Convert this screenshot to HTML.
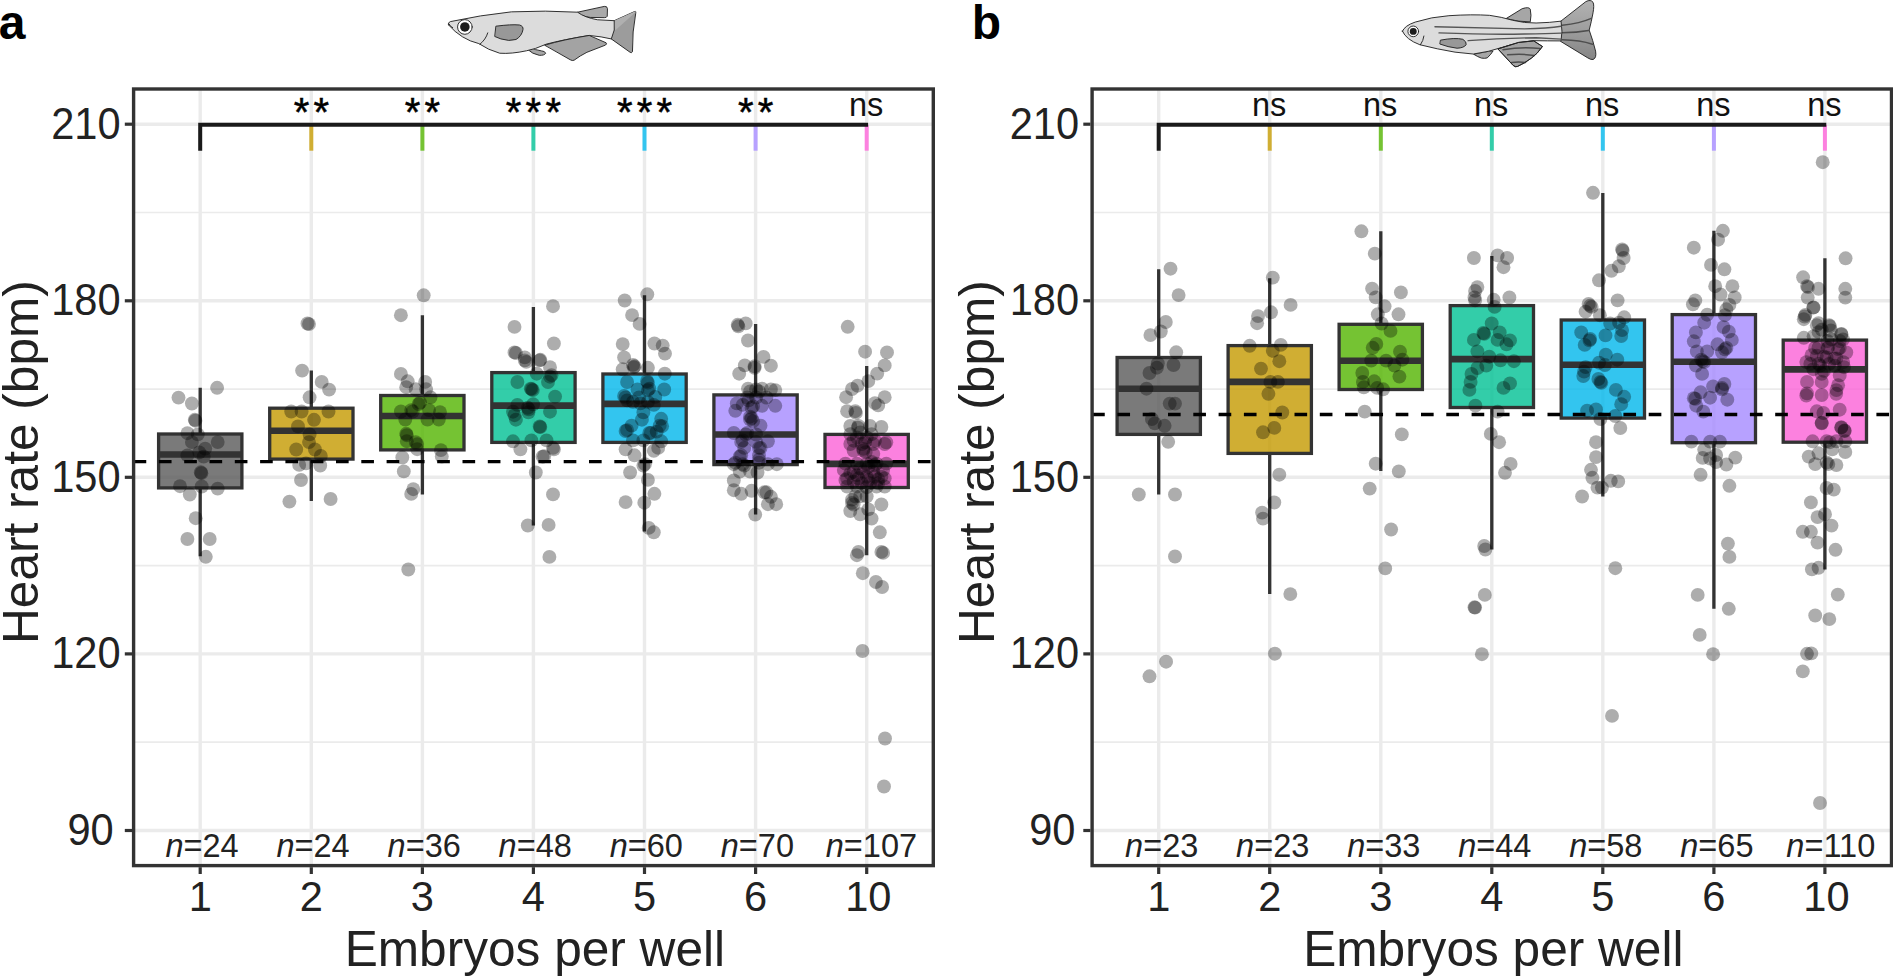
<!DOCTYPE html>
<html><head><meta charset="utf-8"><title>Heart rate vs embryos per well</title>
<style>
html,body{margin:0;padding:0;background:#fff;}
body{width:1893px;height:978px;overflow:hidden;}
svg{display:block;}
text{font-family:"Liberation Sans",Arial,Helvetica,sans-serif;fill:#222;}
.yt{font-size:41.6px;text-anchor:end;}
.xt{font-size:41.6px;text-anchor:middle;}
.ttl{font-size:49.6px;}
.nl{font-size:32.5px;text-anchor:middle;}
.ns{font-size:32.5px;text-anchor:middle;fill:#111;}
.star{font-size:40px;text-anchor:middle;fill:#000;letter-spacing:4.2px;stroke:#000;stroke-width:0.5px;}
.pl{font-size:48px;font-weight:bold;fill:#000;}
</style></head><body>
<svg width="1893" height="978" viewBox="0 0 1893 978">
<rect width="1893" height="978" fill="#fff"/>
<rect x="133.6" y="89.0" width="799.7" height="776.6" fill="#fff"/>
<line x1="133.6" x2="933.3" y1="742.2" y2="742.2" stroke="#ebebeb" stroke-width="1.7"/>
<line x1="133.6" x2="933.3" y1="565.6" y2="565.6" stroke="#ebebeb" stroke-width="1.7"/>
<line x1="133.6" x2="933.3" y1="389.1" y2="389.1" stroke="#ebebeb" stroke-width="1.7"/>
<line x1="133.6" x2="933.3" y1="212.5" y2="212.5" stroke="#ebebeb" stroke-width="1.7"/>
<line x1="133.6" x2="933.3" y1="830.5" y2="830.5" stroke="#ebebeb" stroke-width="3.4"/>
<line x1="133.6" x2="933.3" y1="653.9" y2="653.9" stroke="#ebebeb" stroke-width="3.4"/>
<line x1="133.6" x2="933.3" y1="477.3" y2="477.3" stroke="#ebebeb" stroke-width="3.4"/>
<line x1="133.6" x2="933.3" y1="300.8" y2="300.8" stroke="#ebebeb" stroke-width="3.4"/>
<line x1="133.6" x2="933.3" y1="124.2" y2="124.2" stroke="#ebebeb" stroke-width="3.4"/>
<line x1="200.2" x2="200.2" y1="89.0" y2="865.6" stroke="#ebebeb" stroke-width="3.4"/>
<line x1="311.3" x2="311.3" y1="89.0" y2="865.6" stroke="#ebebeb" stroke-width="3.4"/>
<line x1="422.4" x2="422.4" y1="89.0" y2="865.6" stroke="#ebebeb" stroke-width="3.4"/>
<line x1="533.4" x2="533.4" y1="89.0" y2="865.6" stroke="#ebebeb" stroke-width="3.4"/>
<line x1="644.5" x2="644.5" y1="89.0" y2="865.6" stroke="#ebebeb" stroke-width="3.4"/>
<line x1="755.6" x2="755.6" y1="89.0" y2="865.6" stroke="#ebebeb" stroke-width="3.4"/>
<line x1="866.7" x2="866.7" y1="89.0" y2="865.6" stroke="#ebebeb" stroke-width="3.4"/>
<path d="M200.2 387.8V434.0M200.2 487.9V556.2" stroke="#333" stroke-width="3.3" fill="none"/>
<rect x="158.6" y="434.0" width="83.3" height="53.9" fill="#595959" fill-opacity="0.8" stroke="#333" stroke-width="3.3" stroke-linejoin="miter"/>
<line x1="158.6" x2="241.9" y1="454.5" y2="454.5" stroke="#333" stroke-width="6.6"/>
<path d="M311.3 370.6V408.2M311.3 459.1V501.0" stroke="#333" stroke-width="3.3" fill="none"/>
<rect x="269.7" y="408.2" width="83.3" height="50.9" fill="#C49A00" fill-opacity="0.8" stroke="#333" stroke-width="3.3" stroke-linejoin="miter"/>
<line x1="269.7" x2="353.0" y1="430.8" y2="430.8" stroke="#333" stroke-width="6.6"/>
<path d="M422.4 315.2V395.5M422.4 449.9V494.5" stroke="#333" stroke-width="3.3" fill="none"/>
<rect x="380.7" y="395.5" width="83.3" height="54.4" fill="#53B400" fill-opacity="0.8" stroke="#333" stroke-width="3.3" stroke-linejoin="miter"/>
<line x1="380.7" x2="464.0" y1="416.0" y2="416.0" stroke="#333" stroke-width="6.6"/>
<path d="M533.4 307.0V372.6M533.4 442.4V525.5" stroke="#333" stroke-width="3.3" fill="none"/>
<rect x="491.8" y="372.6" width="83.3" height="69.8" fill="#00C094" fill-opacity="0.8" stroke="#333" stroke-width="3.3" stroke-linejoin="miter"/>
<line x1="491.8" x2="575.1" y1="405.6" y2="405.6" stroke="#333" stroke-width="6.6"/>
<path d="M644.5 295.2V374.0M644.5 442.4V531.4" stroke="#333" stroke-width="3.3" fill="none"/>
<rect x="602.9" y="374.0" width="83.3" height="68.4" fill="#00B6EB" fill-opacity="0.8" stroke="#333" stroke-width="3.3" stroke-linejoin="miter"/>
<line x1="602.9" x2="686.2" y1="403.9" y2="403.9" stroke="#333" stroke-width="6.6"/>
<path d="M755.6 324.0V394.9M755.6 464.6V514.6" stroke="#333" stroke-width="3.3" fill="none"/>
<rect x="713.9" y="394.9" width="83.3" height="69.7" fill="#A58AFF" fill-opacity="0.8" stroke="#333" stroke-width="3.3" stroke-linejoin="miter"/>
<line x1="713.9" x2="797.2" y1="434.5" y2="434.5" stroke="#333" stroke-width="6.6"/>
<path d="M866.7 366.1V434.4M866.7 487.5V555.2" stroke="#333" stroke-width="3.3" fill="none"/>
<rect x="825.0" y="434.4" width="83.3" height="53.1" fill="#FB61D7" fill-opacity="0.8" stroke="#333" stroke-width="3.3" stroke-linejoin="miter"/>
<line x1="825.0" x2="908.3" y1="463.9" y2="463.9" stroke="#333" stroke-width="6.6"/>
<g fill="#000" fill-opacity="0.32">
<circle cx="217.1" cy="387.8" r="6.95"/>
<circle cx="178.5" cy="397.6" r="6.95"/>
<circle cx="191.9" cy="403.5" r="6.95"/>
<circle cx="194.8" cy="419.8" r="6.95"/>
<circle cx="195.4" cy="420.7" r="6.95"/>
<circle cx="187.4" cy="433.2" r="6.95"/>
<circle cx="197.8" cy="434.4" r="6.95"/>
<circle cx="191.9" cy="442.1" r="6.95"/>
<circle cx="217.7" cy="442.1" r="6.95"/>
<circle cx="205.2" cy="448.6" r="6.95"/>
<circle cx="199.3" cy="452.4" r="6.95"/>
<circle cx="187.4" cy="455.4" r="6.95"/>
<circle cx="203.7" cy="456.6" r="6.95"/>
<circle cx="200.8" cy="472.3" r="6.95"/>
<circle cx="201.4" cy="473.2" r="6.95"/>
<circle cx="180.0" cy="486.2" r="6.95"/>
<circle cx="201.7" cy="486.5" r="6.95"/>
<circle cx="217.7" cy="488.6" r="6.95"/>
<circle cx="189.8" cy="494.5" r="6.95"/>
<circle cx="195.7" cy="518.2" r="6.95"/>
<circle cx="187.4" cy="539.0" r="6.95"/>
<circle cx="209.7" cy="539.0" r="6.95"/>
<circle cx="205.8" cy="556.8" r="6.95"/>
<circle cx="307.5" cy="323.5" r="6.95"/>
<circle cx="309.0" cy="324.1" r="6.95"/>
<circle cx="302.1" cy="370.6" r="6.95"/>
<circle cx="321.7" cy="381.9" r="6.95"/>
<circle cx="329.1" cy="389.6" r="6.95"/>
<circle cx="309.6" cy="397.3" r="6.95"/>
<circle cx="291.2" cy="411.5" r="6.95"/>
<circle cx="301.6" cy="411.5" r="6.95"/>
<circle cx="328.5" cy="411.5" r="6.95"/>
<circle cx="314.0" cy="419.8" r="6.95"/>
<circle cx="298.0" cy="426.4" r="6.95"/>
<circle cx="309.6" cy="434.4" r="6.95"/>
<circle cx="309.0" cy="442.1" r="6.95"/>
<circle cx="296.2" cy="449.5" r="6.95"/>
<circle cx="314.9" cy="449.5" r="6.95"/>
<circle cx="320.8" cy="456.0" r="6.95"/>
<circle cx="299.2" cy="464.9" r="6.95"/>
<circle cx="306.0" cy="463.4" r="6.95"/>
<circle cx="320.2" cy="465.5" r="6.95"/>
<circle cx="301.0" cy="480.0" r="6.95"/>
<circle cx="289.4" cy="501.6" r="6.95"/>
<circle cx="330.6" cy="499.0" r="6.95"/>
<circle cx="423.7" cy="295.3" r="6.95"/>
<circle cx="400.9" cy="315.2" r="6.95"/>
<circle cx="400.9" cy="373.9" r="6.95"/>
<circle cx="407.7" cy="381.3" r="6.95"/>
<circle cx="425.2" cy="381.9" r="6.95"/>
<circle cx="406.2" cy="387.2" r="6.95"/>
<circle cx="415.7" cy="389.3" r="6.95"/>
<circle cx="426.1" cy="389.3" r="6.95"/>
<circle cx="430.5" cy="397.3" r="6.95"/>
<circle cx="418.6" cy="404.1" r="6.95"/>
<circle cx="400.9" cy="411.5" r="6.95"/>
<circle cx="411.2" cy="410.1" r="6.95"/>
<circle cx="429.0" cy="410.1" r="6.95"/>
<circle cx="440.0" cy="412.1" r="6.95"/>
<circle cx="405.3" cy="419.5" r="6.95"/>
<circle cx="427.5" cy="419.5" r="6.95"/>
<circle cx="438.8" cy="419.5" r="6.95"/>
<circle cx="406.2" cy="433.8" r="6.95"/>
<circle cx="406.8" cy="441.2" r="6.95"/>
<circle cx="415.7" cy="442.1" r="6.95"/>
<circle cx="417.2" cy="449.2" r="6.95"/>
<circle cx="440.9" cy="450.1" r="6.95"/>
<circle cx="402.3" cy="457.5" r="6.95"/>
<circle cx="441.8" cy="456.6" r="6.95"/>
<circle cx="403.8" cy="471.4" r="6.95"/>
<circle cx="413.3" cy="489.2" r="6.95"/>
<circle cx="411.2" cy="493.9" r="6.95"/>
<circle cx="408.3" cy="569.5" r="6.95"/>
<circle cx="420.1" cy="402.6" r="6.95"/>
<circle cx="412.7" cy="411.5" r="6.95"/>
<circle cx="417.2" cy="444.1" r="6.95"/>
<circle cx="406.8" cy="435.2" r="6.95"/>
<circle cx="553.0" cy="306.2" r="6.95"/>
<circle cx="514.5" cy="326.9" r="6.95"/>
<circle cx="553.9" cy="343.5" r="6.95"/>
<circle cx="514.5" cy="352.4" r="6.95"/>
<circle cx="524.8" cy="357.4" r="6.95"/>
<circle cx="526.3" cy="361.9" r="6.95"/>
<circle cx="540.3" cy="359.8" r="6.95"/>
<circle cx="550.0" cy="367.2" r="6.95"/>
<circle cx="536.7" cy="373.7" r="6.95"/>
<circle cx="551.5" cy="375.2" r="6.95"/>
<circle cx="517.4" cy="382.0" r="6.95"/>
<circle cx="548.0" cy="382.0" r="6.95"/>
<circle cx="530.8" cy="388.6" r="6.95"/>
<circle cx="532.8" cy="390.1" r="6.95"/>
<circle cx="555.1" cy="396.6" r="6.95"/>
<circle cx="517.4" cy="404.9" r="6.95"/>
<circle cx="533.1" cy="404.3" r="6.95"/>
<circle cx="527.8" cy="407.8" r="6.95"/>
<circle cx="513.0" cy="411.7" r="6.95"/>
<circle cx="528.4" cy="412.3" r="6.95"/>
<circle cx="550.0" cy="411.7" r="6.95"/>
<circle cx="515.9" cy="419.7" r="6.95"/>
<circle cx="539.7" cy="426.5" r="6.95"/>
<circle cx="513.0" cy="441.3" r="6.95"/>
<circle cx="531.4" cy="440.4" r="6.95"/>
<circle cx="546.5" cy="440.4" r="6.95"/>
<circle cx="520.4" cy="449.3" r="6.95"/>
<circle cx="553.9" cy="449.3" r="6.95"/>
<circle cx="544.1" cy="456.2" r="6.95"/>
<circle cx="535.8" cy="472.5" r="6.95"/>
<circle cx="553.0" cy="494.4" r="6.95"/>
<circle cx="527.8" cy="525.5" r="6.95"/>
<circle cx="548.6" cy="524.9" r="6.95"/>
<circle cx="549.4" cy="556.9" r="6.95"/>
<circle cx="515.9" cy="353.0" r="6.95"/>
<circle cx="524.8" cy="360.4" r="6.95"/>
<circle cx="539.7" cy="360.4" r="6.95"/>
<circle cx="550.0" cy="376.7" r="6.95"/>
<circle cx="531.7" cy="389.2" r="6.95"/>
<circle cx="528.7" cy="409.3" r="6.95"/>
<circle cx="514.5" cy="415.2" r="6.95"/>
<circle cx="540.3" cy="427.1" r="6.95"/>
<circle cx="553.0" cy="447.9" r="6.95"/>
<circle cx="542.6" cy="456.7" r="6.95"/>
<circle cx="647.3" cy="294.3" r="6.95"/>
<circle cx="624.7" cy="300.5" r="6.95"/>
<circle cx="632.1" cy="315.1" r="6.95"/>
<circle cx="639.6" cy="323.9" r="6.95"/>
<circle cx="622.7" cy="344.1" r="6.95"/>
<circle cx="654.4" cy="343.5" r="6.95"/>
<circle cx="662.7" cy="345.6" r="6.95"/>
<circle cx="665.0" cy="353.6" r="6.95"/>
<circle cx="624.1" cy="357.4" r="6.95"/>
<circle cx="633.0" cy="364.9" r="6.95"/>
<circle cx="633.9" cy="367.2" r="6.95"/>
<circle cx="647.9" cy="367.8" r="6.95"/>
<circle cx="622.7" cy="369.3" r="6.95"/>
<circle cx="664.8" cy="373.7" r="6.95"/>
<circle cx="627.1" cy="382.0" r="6.95"/>
<circle cx="647.0" cy="381.2" r="6.95"/>
<circle cx="664.2" cy="389.5" r="6.95"/>
<circle cx="637.5" cy="389.5" r="6.95"/>
<circle cx="647.9" cy="390.1" r="6.95"/>
<circle cx="624.1" cy="396.0" r="6.95"/>
<circle cx="639.0" cy="397.5" r="6.95"/>
<circle cx="655.3" cy="396.9" r="6.95"/>
<circle cx="627.1" cy="400.4" r="6.95"/>
<circle cx="640.4" cy="403.4" r="6.95"/>
<circle cx="653.8" cy="404.9" r="6.95"/>
<circle cx="643.4" cy="412.3" r="6.95"/>
<circle cx="641.9" cy="419.7" r="6.95"/>
<circle cx="661.2" cy="418.8" r="6.95"/>
<circle cx="631.6" cy="425.6" r="6.95"/>
<circle cx="662.1" cy="426.2" r="6.95"/>
<circle cx="625.6" cy="431.0" r="6.95"/>
<circle cx="649.3" cy="433.0" r="6.95"/>
<circle cx="656.7" cy="431.6" r="6.95"/>
<circle cx="633.0" cy="440.4" r="6.95"/>
<circle cx="643.4" cy="440.4" r="6.95"/>
<circle cx="661.2" cy="441.3" r="6.95"/>
<circle cx="625.6" cy="449.3" r="6.95"/>
<circle cx="634.5" cy="455.3" r="6.95"/>
<circle cx="653.8" cy="450.8" r="6.95"/>
<circle cx="658.2" cy="447.9" r="6.95"/>
<circle cx="643.4" cy="465.6" r="6.95"/>
<circle cx="630.1" cy="472.5" r="6.95"/>
<circle cx="647.9" cy="479.9" r="6.95"/>
<circle cx="654.4" cy="493.8" r="6.95"/>
<circle cx="625.6" cy="502.1" r="6.95"/>
<circle cx="644.3" cy="502.7" r="6.95"/>
<circle cx="648.7" cy="527.9" r="6.95"/>
<circle cx="653.8" cy="532.3" r="6.95"/>
<circle cx="634.5" cy="366.3" r="6.95"/>
<circle cx="647.9" cy="382.6" r="6.95"/>
<circle cx="649.3" cy="388.6" r="6.95"/>
<circle cx="625.6" cy="397.5" r="6.95"/>
<circle cx="633.0" cy="401.9" r="6.95"/>
<circle cx="647.9" cy="401.9" r="6.95"/>
<circle cx="659.7" cy="425.6" r="6.95"/>
<circle cx="644.9" cy="464.2" r="6.95"/>
<circle cx="650.8" cy="433.0" r="6.95"/>
<circle cx="627.1" cy="430.1" r="6.95"/>
<circle cx="737.7" cy="324.8" r="6.95"/>
<circle cx="745.7" cy="323.4" r="6.95"/>
<circle cx="738.3" cy="326.3" r="6.95"/>
<circle cx="748.0" cy="340.5" r="6.95"/>
<circle cx="763.5" cy="356.9" r="6.95"/>
<circle cx="744.8" cy="365.4" r="6.95"/>
<circle cx="754.6" cy="366.3" r="6.95"/>
<circle cx="770.9" cy="365.7" r="6.95"/>
<circle cx="739.2" cy="373.7" r="6.95"/>
<circle cx="748.0" cy="388.6" r="6.95"/>
<circle cx="756.1" cy="389.5" r="6.95"/>
<circle cx="762.0" cy="388.6" r="6.95"/>
<circle cx="770.9" cy="389.5" r="6.95"/>
<circle cx="775.3" cy="390.1" r="6.95"/>
<circle cx="747.2" cy="397.5" r="6.95"/>
<circle cx="756.1" cy="397.5" r="6.95"/>
<circle cx="766.4" cy="397.5" r="6.95"/>
<circle cx="736.8" cy="403.4" r="6.95"/>
<circle cx="742.7" cy="404.9" r="6.95"/>
<circle cx="753.1" cy="406.4" r="6.95"/>
<circle cx="762.0" cy="405.8" r="6.95"/>
<circle cx="775.3" cy="405.8" r="6.95"/>
<circle cx="735.3" cy="410.8" r="6.95"/>
<circle cx="750.1" cy="416.7" r="6.95"/>
<circle cx="753.1" cy="421.2" r="6.95"/>
<circle cx="760.5" cy="425.6" r="6.95"/>
<circle cx="733.8" cy="433.0" r="6.95"/>
<circle cx="747.2" cy="433.0" r="6.95"/>
<circle cx="756.1" cy="434.5" r="6.95"/>
<circle cx="742.7" cy="440.4" r="6.95"/>
<circle cx="756.1" cy="441.9" r="6.95"/>
<circle cx="767.9" cy="441.3" r="6.95"/>
<circle cx="744.2" cy="447.9" r="6.95"/>
<circle cx="760.5" cy="447.9" r="6.95"/>
<circle cx="739.7" cy="456.7" r="6.95"/>
<circle cx="759.0" cy="455.3" r="6.95"/>
<circle cx="733.8" cy="464.2" r="6.95"/>
<circle cx="742.7" cy="464.2" r="6.95"/>
<circle cx="759.0" cy="462.7" r="6.95"/>
<circle cx="767.9" cy="464.2" r="6.95"/>
<circle cx="776.8" cy="464.2" r="6.95"/>
<circle cx="739.7" cy="471.6" r="6.95"/>
<circle cx="750.1" cy="471.6" r="6.95"/>
<circle cx="757.5" cy="472.5" r="6.95"/>
<circle cx="733.8" cy="480.5" r="6.95"/>
<circle cx="733.8" cy="490.2" r="6.95"/>
<circle cx="741.2" cy="493.8" r="6.95"/>
<circle cx="751.6" cy="490.8" r="6.95"/>
<circle cx="764.4" cy="492.3" r="6.95"/>
<circle cx="770.9" cy="496.8" r="6.95"/>
<circle cx="767.9" cy="504.2" r="6.95"/>
<circle cx="776.2" cy="504.2" r="6.95"/>
<circle cx="755.2" cy="514.6" r="6.95"/>
<circle cx="750.1" cy="391.5" r="6.95"/>
<circle cx="759.0" cy="391.5" r="6.95"/>
<circle cx="748.6" cy="400.4" r="6.95"/>
<circle cx="751.6" cy="407.8" r="6.95"/>
<circle cx="751.6" cy="418.2" r="6.95"/>
<circle cx="750.1" cy="419.7" r="6.95"/>
<circle cx="745.7" cy="434.5" r="6.95"/>
<circle cx="741.2" cy="441.9" r="6.95"/>
<circle cx="759.0" cy="447.9" r="6.95"/>
<circle cx="741.2" cy="455.3" r="6.95"/>
<circle cx="759.0" cy="459.7" r="6.95"/>
<circle cx="735.3" cy="462.7" r="6.95"/>
<circle cx="744.2" cy="465.6" r="6.95"/>
<circle cx="754.6" cy="367.8" r="6.95"/>
<circle cx="766.4" cy="492.3" r="6.95"/>
<circle cx="847.7" cy="326.8" r="6.95"/>
<circle cx="865.1" cy="351.7" r="6.95"/>
<circle cx="887.0" cy="352.4" r="6.95"/>
<circle cx="884.7" cy="365.4" r="6.95"/>
<circle cx="877.2" cy="373.6" r="6.95"/>
<circle cx="868.3" cy="381.1" r="6.95"/>
<circle cx="857.5" cy="385.7" r="6.95"/>
<circle cx="852.0" cy="389.0" r="6.95"/>
<circle cx="846.1" cy="397.2" r="6.95"/>
<circle cx="884.7" cy="397.2" r="6.95"/>
<circle cx="874.9" cy="403.1" r="6.95"/>
<circle cx="878.2" cy="405.4" r="6.95"/>
<circle cx="847.1" cy="411.2" r="6.95"/>
<circle cx="855.3" cy="411.2" r="6.95"/>
<circle cx="850.3" cy="426.0" r="6.95"/>
<circle cx="858.5" cy="426.0" r="6.95"/>
<circle cx="870.0" cy="426.0" r="6.95"/>
<circle cx="881.4" cy="427.0" r="6.95"/>
<circle cx="850.3" cy="434.2" r="6.95"/>
<circle cx="860.2" cy="432.5" r="6.95"/>
<circle cx="871.6" cy="434.2" r="6.95"/>
<circle cx="853.6" cy="440.7" r="6.95"/>
<circle cx="865.1" cy="442.3" r="6.95"/>
<circle cx="874.9" cy="440.7" r="6.95"/>
<circle cx="886.3" cy="442.3" r="6.95"/>
<circle cx="853.6" cy="450.5" r="6.95"/>
<circle cx="863.4" cy="450.5" r="6.95"/>
<circle cx="873.3" cy="453.8" r="6.95"/>
<circle cx="845.4" cy="463.6" r="6.95"/>
<circle cx="856.9" cy="463.6" r="6.95"/>
<circle cx="866.7" cy="463.6" r="6.95"/>
<circle cx="876.5" cy="463.6" r="6.95"/>
<circle cx="886.3" cy="463.6" r="6.95"/>
<circle cx="843.8" cy="470.1" r="6.95"/>
<circle cx="853.6" cy="471.8" r="6.95"/>
<circle cx="863.4" cy="471.8" r="6.95"/>
<circle cx="873.3" cy="471.8" r="6.95"/>
<circle cx="883.1" cy="470.1" r="6.95"/>
<circle cx="847.1" cy="478.3" r="6.95"/>
<circle cx="858.5" cy="478.3" r="6.95"/>
<circle cx="868.3" cy="480.0" r="6.95"/>
<circle cx="878.2" cy="479.3" r="6.95"/>
<circle cx="847.1" cy="486.5" r="6.95"/>
<circle cx="856.9" cy="486.5" r="6.95"/>
<circle cx="866.7" cy="487.2" r="6.95"/>
<circle cx="876.5" cy="486.5" r="6.95"/>
<circle cx="884.7" cy="486.5" r="6.95"/>
<circle cx="855.3" cy="496.3" r="6.95"/>
<circle cx="866.7" cy="496.3" r="6.95"/>
<circle cx="852.0" cy="502.9" r="6.95"/>
<circle cx="881.4" cy="504.5" r="6.95"/>
<circle cx="850.3" cy="511.0" r="6.95"/>
<circle cx="868.3" cy="509.4" r="6.95"/>
<circle cx="860.2" cy="514.3" r="6.95"/>
<circle cx="871.6" cy="518.6" r="6.95"/>
<circle cx="879.8" cy="532.3" r="6.95"/>
<circle cx="858.5" cy="551.9" r="6.95"/>
<circle cx="856.9" cy="555.2" r="6.95"/>
<circle cx="881.4" cy="551.9" r="6.95"/>
<circle cx="883.1" cy="552.9" r="6.95"/>
<circle cx="862.8" cy="573.2" r="6.95"/>
<circle cx="875.9" cy="582.0" r="6.95"/>
<circle cx="882.1" cy="587.0" r="6.95"/>
<circle cx="855.9" cy="412.9" r="6.95"/>
<circle cx="857.9" cy="427.6" r="6.95"/>
<circle cx="861.8" cy="444.0" r="6.95"/>
<circle cx="863.4" cy="448.9" r="6.95"/>
<circle cx="865.7" cy="452.1" r="6.95"/>
<circle cx="871.6" cy="462.0" r="6.95"/>
<circle cx="874.9" cy="465.2" r="6.95"/>
<circle cx="868.3" cy="466.9" r="6.95"/>
<circle cx="860.2" cy="468.5" r="6.95"/>
<circle cx="850.3" cy="473.4" r="6.95"/>
<circle cx="856.9" cy="475.1" r="6.95"/>
<circle cx="866.7" cy="476.7" r="6.95"/>
<circle cx="874.9" cy="476.7" r="6.95"/>
<circle cx="881.4" cy="476.7" r="6.95"/>
<circle cx="845.4" cy="480.0" r="6.95"/>
<circle cx="853.6" cy="481.6" r="6.95"/>
<circle cx="861.8" cy="483.2" r="6.95"/>
<circle cx="870.0" cy="483.2" r="6.95"/>
<circle cx="878.2" cy="483.2" r="6.95"/>
<circle cx="884.7" cy="478.3" r="6.95"/>
<circle cx="852.0" cy="499.6" r="6.95"/>
<circle cx="853.6" cy="504.5" r="6.95"/>
<circle cx="860.2" cy="496.3" r="6.95"/>
<circle cx="873.3" cy="444.0" r="6.95"/>
<circle cx="884.7" cy="444.0" r="6.95"/>
<circle cx="850.3" cy="444.0" r="6.95"/>
<circle cx="856.9" cy="437.4" r="6.95"/>
<circle cx="866.7" cy="437.4" r="6.95"/>
<circle cx="862.5" cy="651.0" r="6.95"/>
<circle cx="885.0" cy="738.5" r="6.95"/>
<circle cx="884.0" cy="786.5" r="6.95"/>
</g>
<line x1="133.6" x2="933.3" y1="461.7" y2="461.7" stroke="#000" stroke-width="3.3" stroke-dasharray="12.65 12.65"/>
<line x1="311.3" x2="311.3" y1="124.8" y2="150.7" stroke="#D0AE33" stroke-width="4"/>
<line x1="422.4" x2="422.4" y1="124.8" y2="150.7" stroke="#75C333" stroke-width="4"/>
<line x1="533.4" x2="533.4" y1="124.8" y2="150.7" stroke="#33CDA9" stroke-width="4"/>
<line x1="644.5" x2="644.5" y1="124.8" y2="150.7" stroke="#33C5EF" stroke-width="4"/>
<line x1="755.6" x2="755.6" y1="124.8" y2="150.7" stroke="#B7A1FF" stroke-width="4"/>
<line x1="866.7" x2="866.7" y1="124.8" y2="150.7" stroke="#FC81DF" stroke-width="4"/>
<path d="M200.2 150.7V124.8H868.1" stroke="#1a1a1a" stroke-width="4" fill="none"/>
<text x="313.4" y="126.1" class="star">**</text>
<text x="424.5" y="126.1" class="star">**</text>
<text x="535.5" y="126.1" class="star">***</text>
<text x="646.6" y="126.1" class="star">***</text>
<text x="757.7" y="126.1" class="star">**</text>
<text x="866.1" y="116.1" class="ns">ns</text>
<text x="202.0" y="857.3" class="nl"><tspan font-style="italic">n</tspan>=24</text>
<text x="313.1" y="857.3" class="nl"><tspan font-style="italic">n</tspan>=24</text>
<text x="424.2" y="857.3" class="nl"><tspan font-style="italic">n</tspan>=36</text>
<text x="535.2" y="857.3" class="nl"><tspan font-style="italic">n</tspan>=48</text>
<text x="646.3" y="857.3" class="nl"><tspan font-style="italic">n</tspan>=60</text>
<text x="757.4" y="857.3" class="nl"><tspan font-style="italic">n</tspan>=70</text>
<text x="871.4" y="857.3" class="nl"><tspan font-style="italic">n</tspan>=107</text>
<rect x="133.6" y="89.0" width="799.7" height="776.6" fill="none" stroke="#333" stroke-width="3.4"/>
<line x1="124.8" x2="132.0" y1="830.5" y2="830.5" stroke="#333" stroke-width="3.2"/>
<text transform="translate(113.7,844.9) scale(1,1.045)" class="yt">90</text>
<line x1="124.8" x2="132.0" y1="653.9" y2="653.9" stroke="#333" stroke-width="3.2"/>
<text transform="translate(120.6,668.3) scale(1,1.045)" class="yt">120</text>
<line x1="124.8" x2="132.0" y1="477.3" y2="477.3" stroke="#333" stroke-width="3.2"/>
<text transform="translate(120.6,491.7) scale(1,1.045)" class="yt">150</text>
<line x1="124.8" x2="132.0" y1="300.8" y2="300.8" stroke="#333" stroke-width="3.2"/>
<text transform="translate(120.6,315.2) scale(1,1.045)" class="yt">180</text>
<line x1="124.8" x2="132.0" y1="124.2" y2="124.2" stroke="#333" stroke-width="3.2"/>
<text transform="translate(120.6,138.6) scale(1,1.045)" class="yt">210</text>
<line x1="200.2" x2="200.2" y1="867.2" y2="874.0" stroke="#333" stroke-width="3.2"/>
<text transform="translate(200.2,911) scale(1,1.03)" class="xt">1</text>
<line x1="311.3" x2="311.3" y1="867.2" y2="874.0" stroke="#333" stroke-width="3.2"/>
<text transform="translate(311.3,911) scale(1,1.03)" class="xt">2</text>
<line x1="422.4" x2="422.4" y1="867.2" y2="874.0" stroke="#333" stroke-width="3.2"/>
<text transform="translate(422.4,911) scale(1,1.03)" class="xt">3</text>
<line x1="533.4" x2="533.4" y1="867.2" y2="874.0" stroke="#333" stroke-width="3.2"/>
<text transform="translate(533.4,911) scale(1,1.03)" class="xt">4</text>
<line x1="644.5" x2="644.5" y1="867.2" y2="874.0" stroke="#333" stroke-width="3.2"/>
<text transform="translate(644.5,911) scale(1,1.03)" class="xt">5</text>
<line x1="755.6" x2="755.6" y1="867.2" y2="874.0" stroke="#333" stroke-width="3.2"/>
<text transform="translate(755.6,911) scale(1,1.03)" class="xt">6</text>
<line x1="866.7" x2="866.7" y1="867.2" y2="874.0" stroke="#333" stroke-width="3.2"/>
<text transform="translate(868.3,911) scale(1,1.03)" class="xt">10</text>
<text x="534.9" y="966.4" class="ttl" text-anchor="middle">Embryos per well</text>
<rect x="1092.1" y="89.0" width="799.4" height="776.6" fill="#fff"/>
<line x1="1092.1" x2="1891.5" y1="742.2" y2="742.2" stroke="#ebebeb" stroke-width="1.7"/>
<line x1="1092.1" x2="1891.5" y1="565.6" y2="565.6" stroke="#ebebeb" stroke-width="1.7"/>
<line x1="1092.1" x2="1891.5" y1="389.1" y2="389.1" stroke="#ebebeb" stroke-width="1.7"/>
<line x1="1092.1" x2="1891.5" y1="212.5" y2="212.5" stroke="#ebebeb" stroke-width="1.7"/>
<line x1="1092.1" x2="1891.5" y1="830.5" y2="830.5" stroke="#ebebeb" stroke-width="3.4"/>
<line x1="1092.1" x2="1891.5" y1="653.9" y2="653.9" stroke="#ebebeb" stroke-width="3.4"/>
<line x1="1092.1" x2="1891.5" y1="477.3" y2="477.3" stroke="#ebebeb" stroke-width="3.4"/>
<line x1="1092.1" x2="1891.5" y1="300.8" y2="300.8" stroke="#ebebeb" stroke-width="3.4"/>
<line x1="1092.1" x2="1891.5" y1="124.2" y2="124.2" stroke="#ebebeb" stroke-width="3.4"/>
<line x1="1158.7" x2="1158.7" y1="89.0" y2="865.6" stroke="#ebebeb" stroke-width="3.4"/>
<line x1="1269.7" x2="1269.7" y1="89.0" y2="865.6" stroke="#ebebeb" stroke-width="3.4"/>
<line x1="1380.8" x2="1380.8" y1="89.0" y2="865.6" stroke="#ebebeb" stroke-width="3.4"/>
<line x1="1491.8" x2="1491.8" y1="89.0" y2="865.6" stroke="#ebebeb" stroke-width="3.4"/>
<line x1="1602.8" x2="1602.8" y1="89.0" y2="865.6" stroke="#ebebeb" stroke-width="3.4"/>
<line x1="1713.9" x2="1713.9" y1="89.0" y2="865.6" stroke="#ebebeb" stroke-width="3.4"/>
<line x1="1824.9" x2="1824.9" y1="89.0" y2="865.6" stroke="#ebebeb" stroke-width="3.4"/>
<path d="M1158.7 269.3V357.5M1158.7 434.4V494.6" stroke="#333" stroke-width="3.3" fill="none"/>
<rect x="1117.1" y="357.5" width="83.3" height="76.9" fill="#595959" fill-opacity="0.8" stroke="#333" stroke-width="3.3" stroke-linejoin="miter"/>
<line x1="1117.1" x2="1200.4" y1="388.7" y2="388.7" stroke="#333" stroke-width="6.6"/>
<path d="M1269.7 278.2V345.6M1269.7 453.4V594.1" stroke="#333" stroke-width="3.3" fill="none"/>
<rect x="1228.1" y="345.6" width="83.3" height="107.8" fill="#C49A00" fill-opacity="0.8" stroke="#333" stroke-width="3.3" stroke-linejoin="miter"/>
<line x1="1228.1" x2="1311.4" y1="381.9" y2="381.9" stroke="#333" stroke-width="6.6"/>
<path d="M1380.8 231.3V324.3M1380.8 389.6V470.9" stroke="#333" stroke-width="3.3" fill="none"/>
<rect x="1339.1" y="324.3" width="83.3" height="65.2" fill="#53B400" fill-opacity="0.8" stroke="#333" stroke-width="3.3" stroke-linejoin="miter"/>
<line x1="1339.1" x2="1422.4" y1="360.7" y2="360.7" stroke="#333" stroke-width="6.6"/>
<path d="M1491.8 256.0V305.6M1491.8 407.5V549.5" stroke="#333" stroke-width="3.3" fill="none"/>
<rect x="1450.2" y="305.6" width="83.3" height="101.9" fill="#00C094" fill-opacity="0.8" stroke="#333" stroke-width="3.3" stroke-linejoin="miter"/>
<line x1="1450.2" x2="1533.4" y1="359.1" y2="359.1" stroke="#333" stroke-width="6.6"/>
<path d="M1602.8 193.1V320.0M1602.8 418.1V496.5" stroke="#333" stroke-width="3.3" fill="none"/>
<rect x="1561.2" y="320.0" width="83.3" height="98.1" fill="#00B6EB" fill-opacity="0.8" stroke="#333" stroke-width="3.3" stroke-linejoin="miter"/>
<line x1="1561.2" x2="1644.5" y1="364.8" y2="364.8" stroke="#333" stroke-width="6.6"/>
<path d="M1713.9 230.8V314.6M1713.9 442.7V608.8" stroke="#333" stroke-width="3.3" fill="none"/>
<rect x="1672.2" y="314.6" width="83.3" height="128.1" fill="#A58AFF" fill-opacity="0.8" stroke="#333" stroke-width="3.3" stroke-linejoin="miter"/>
<line x1="1672.2" x2="1755.5" y1="361.8" y2="361.8" stroke="#333" stroke-width="6.6"/>
<path d="M1824.9 258.3V340.1M1824.9 442.2V569.4" stroke="#333" stroke-width="3.3" fill="none"/>
<rect x="1783.2" y="340.1" width="83.3" height="102.1" fill="#FB61D7" fill-opacity="0.8" stroke="#333" stroke-width="3.3" stroke-linejoin="miter"/>
<line x1="1783.2" x2="1866.5" y1="369.4" y2="369.4" stroke="#333" stroke-width="6.6"/>
<g fill="#000" fill-opacity="0.32">
<circle cx="1170.5" cy="268.7" r="6.95"/>
<circle cx="1178.6" cy="295.1" r="6.95"/>
<circle cx="1165.8" cy="322.0" r="6.95"/>
<circle cx="1160.8" cy="331.5" r="6.95"/>
<circle cx="1150.4" cy="335.1" r="6.95"/>
<circle cx="1176.2" cy="352.3" r="6.95"/>
<circle cx="1157.8" cy="363.5" r="6.95"/>
<circle cx="1173.5" cy="365.0" r="6.95"/>
<circle cx="1156.9" cy="367.7" r="6.95"/>
<circle cx="1149.5" cy="373.0" r="6.95"/>
<circle cx="1146.5" cy="388.7" r="6.95"/>
<circle cx="1169.7" cy="403.6" r="6.95"/>
<circle cx="1175.0" cy="403.6" r="6.95"/>
<circle cx="1151.9" cy="419.0" r="6.95"/>
<circle cx="1154.8" cy="423.4" r="6.95"/>
<circle cx="1164.6" cy="425.8" r="6.95"/>
<circle cx="1168.2" cy="441.8" r="6.95"/>
<circle cx="1138.8" cy="494.5" r="6.95"/>
<circle cx="1175.0" cy="494.5" r="6.95"/>
<circle cx="1175.0" cy="556.5" r="6.95"/>
<circle cx="1166.1" cy="661.7" r="6.95"/>
<circle cx="1149.5" cy="676.3" r="6.95"/>
<circle cx="1272.8" cy="277.6" r="6.95"/>
<circle cx="1290.6" cy="304.9" r="6.95"/>
<circle cx="1271.0" cy="312.3" r="6.95"/>
<circle cx="1258.0" cy="316.1" r="6.95"/>
<circle cx="1257.1" cy="323.2" r="6.95"/>
<circle cx="1249.7" cy="345.8" r="6.95"/>
<circle cx="1280.8" cy="344.9" r="6.95"/>
<circle cx="1272.8" cy="350.8" r="6.95"/>
<circle cx="1279.3" cy="361.2" r="6.95"/>
<circle cx="1261.0" cy="368.6" r="6.95"/>
<circle cx="1270.4" cy="381.9" r="6.95"/>
<circle cx="1277.9" cy="381.9" r="6.95"/>
<circle cx="1268.4" cy="393.8" r="6.95"/>
<circle cx="1282.3" cy="412.5" r="6.95"/>
<circle cx="1274.3" cy="427.9" r="6.95"/>
<circle cx="1263.0" cy="432.3" r="6.95"/>
<circle cx="1279.3" cy="474.7" r="6.95"/>
<circle cx="1274.3" cy="502.5" r="6.95"/>
<circle cx="1262.1" cy="512.6" r="6.95"/>
<circle cx="1263.0" cy="518.6" r="6.95"/>
<circle cx="1290.3" cy="594.1" r="6.95"/>
<circle cx="1274.9" cy="653.7" r="6.95"/>
<circle cx="1361.4" cy="231.3" r="6.95"/>
<circle cx="1374.8" cy="253.6" r="6.95"/>
<circle cx="1372.1" cy="288.6" r="6.95"/>
<circle cx="1400.9" cy="292.4" r="6.95"/>
<circle cx="1375.7" cy="297.4" r="6.95"/>
<circle cx="1384.6" cy="306.3" r="6.95"/>
<circle cx="1377.8" cy="314.3" r="6.95"/>
<circle cx="1398.5" cy="314.3" r="6.95"/>
<circle cx="1381.6" cy="323.5" r="6.95"/>
<circle cx="1390.5" cy="330.9" r="6.95"/>
<circle cx="1376.3" cy="344.0" r="6.95"/>
<circle cx="1372.7" cy="347.8" r="6.95"/>
<circle cx="1400.0" cy="351.7" r="6.95"/>
<circle cx="1371.2" cy="360.6" r="6.95"/>
<circle cx="1386.1" cy="360.6" r="6.95"/>
<circle cx="1402.4" cy="359.7" r="6.95"/>
<circle cx="1394.4" cy="365.6" r="6.95"/>
<circle cx="1362.3" cy="373.0" r="6.95"/>
<circle cx="1399.4" cy="376.6" r="6.95"/>
<circle cx="1362.9" cy="381.9" r="6.95"/>
<circle cx="1374.2" cy="381.3" r="6.95"/>
<circle cx="1363.8" cy="387.3" r="6.95"/>
<circle cx="1377.2" cy="387.9" r="6.95"/>
<circle cx="1383.1" cy="389.3" r="6.95"/>
<circle cx="1364.7" cy="411.6" r="6.95"/>
<circle cx="1401.8" cy="434.4" r="6.95"/>
<circle cx="1375.7" cy="463.7" r="6.95"/>
<circle cx="1398.8" cy="471.4" r="6.95"/>
<circle cx="1369.7" cy="488.6" r="6.95"/>
<circle cx="1391.1" cy="529.5" r="6.95"/>
<circle cx="1385.2" cy="568.4" r="6.95"/>
<circle cx="1473.9" cy="258.0" r="6.95"/>
<circle cx="1497.6" cy="255.4" r="6.95"/>
<circle cx="1507.1" cy="258.0" r="6.95"/>
<circle cx="1503.5" cy="267.2" r="6.95"/>
<circle cx="1477.4" cy="287.1" r="6.95"/>
<circle cx="1475.1" cy="290.9" r="6.95"/>
<circle cx="1474.5" cy="297.5" r="6.95"/>
<circle cx="1475.1" cy="300.4" r="6.95"/>
<circle cx="1493.7" cy="299.8" r="6.95"/>
<circle cx="1509.4" cy="297.5" r="6.95"/>
<circle cx="1494.6" cy="306.9" r="6.95"/>
<circle cx="1491.7" cy="323.5" r="6.95"/>
<circle cx="1483.4" cy="333.0" r="6.95"/>
<circle cx="1499.7" cy="332.4" r="6.95"/>
<circle cx="1473.9" cy="339.9" r="6.95"/>
<circle cx="1497.6" cy="339.9" r="6.95"/>
<circle cx="1510.0" cy="340.4" r="6.95"/>
<circle cx="1506.5" cy="344.3" r="6.95"/>
<circle cx="1477.4" cy="351.4" r="6.95"/>
<circle cx="1489.3" cy="356.7" r="6.95"/>
<circle cx="1500.5" cy="360.3" r="6.95"/>
<circle cx="1513.9" cy="361.2" r="6.95"/>
<circle cx="1486.3" cy="365.6" r="6.95"/>
<circle cx="1477.4" cy="368.0" r="6.95"/>
<circle cx="1471.5" cy="373.9" r="6.95"/>
<circle cx="1470.6" cy="381.9" r="6.95"/>
<circle cx="1510.0" cy="383.4" r="6.95"/>
<circle cx="1503.5" cy="387.9" r="6.95"/>
<circle cx="1469.4" cy="389.9" r="6.95"/>
<circle cx="1475.4" cy="405.7" r="6.95"/>
<circle cx="1497.6" cy="411.6" r="6.95"/>
<circle cx="1484.2" cy="333.9" r="6.95"/>
<circle cx="1490.8" cy="433.9" r="6.95"/>
<circle cx="1499.1" cy="442.2" r="6.95"/>
<circle cx="1510.6" cy="463.9" r="6.95"/>
<circle cx="1505.0" cy="472.8" r="6.95"/>
<circle cx="1484.2" cy="546.0" r="6.95"/>
<circle cx="1485.4" cy="549.5" r="6.95"/>
<circle cx="1484.8" cy="594.9" r="6.95"/>
<circle cx="1474.5" cy="607.3" r="6.95"/>
<circle cx="1475.1" cy="607.6" r="6.95"/>
<circle cx="1481.9" cy="654.2" r="6.95"/>
<circle cx="1593.0" cy="192.8" r="6.95"/>
<circle cx="1622.1" cy="249.4" r="6.95"/>
<circle cx="1623.6" cy="258.0" r="6.95"/>
<circle cx="1618.8" cy="266.3" r="6.95"/>
<circle cx="1611.4" cy="270.8" r="6.95"/>
<circle cx="1599.0" cy="280.3" r="6.95"/>
<circle cx="1617.6" cy="300.4" r="6.95"/>
<circle cx="1588.6" cy="304.0" r="6.95"/>
<circle cx="1591.6" cy="306.9" r="6.95"/>
<circle cx="1585.6" cy="311.7" r="6.95"/>
<circle cx="1599.9" cy="315.2" r="6.95"/>
<circle cx="1624.2" cy="317.3" r="6.95"/>
<circle cx="1610.2" cy="323.5" r="6.95"/>
<circle cx="1619.1" cy="322.7" r="6.95"/>
<circle cx="1581.2" cy="332.4" r="6.95"/>
<circle cx="1590.1" cy="339.0" r="6.95"/>
<circle cx="1584.7" cy="344.9" r="6.95"/>
<circle cx="1605.5" cy="335.4" r="6.95"/>
<circle cx="1622.1" cy="330.1" r="6.95"/>
<circle cx="1621.2" cy="336.0" r="6.95"/>
<circle cx="1605.8" cy="354.7" r="6.95"/>
<circle cx="1617.3" cy="359.7" r="6.95"/>
<circle cx="1604.9" cy="365.0" r="6.95"/>
<circle cx="1599.0" cy="362.7" r="6.95"/>
<circle cx="1585.6" cy="367.1" r="6.95"/>
<circle cx="1584.1" cy="371.6" r="6.95"/>
<circle cx="1583.3" cy="376.0" r="6.95"/>
<circle cx="1598.4" cy="379.0" r="6.95"/>
<circle cx="1601.3" cy="382.8" r="6.95"/>
<circle cx="1615.9" cy="389.9" r="6.95"/>
<circle cx="1624.2" cy="396.8" r="6.95"/>
<circle cx="1621.2" cy="404.2" r="6.95"/>
<circle cx="1587.1" cy="410.7" r="6.95"/>
<circle cx="1596.0" cy="409.5" r="6.95"/>
<circle cx="1615.3" cy="416.0" r="6.95"/>
<circle cx="1600.4" cy="419.0" r="6.95"/>
<circle cx="1622.7" cy="250.6" r="6.95"/>
<circle cx="1590.1" cy="305.8" r="6.95"/>
<circle cx="1589.5" cy="340.4" r="6.95"/>
<circle cx="1600.4" cy="381.9" r="6.95"/>
<circle cx="1620.3" cy="428.0" r="6.95"/>
<circle cx="1596.0" cy="442.2" r="6.95"/>
<circle cx="1596.0" cy="457.1" r="6.95"/>
<circle cx="1591.0" cy="469.8" r="6.95"/>
<circle cx="1592.4" cy="477.8" r="6.95"/>
<circle cx="1610.8" cy="480.8" r="6.95"/>
<circle cx="1618.2" cy="481.4" r="6.95"/>
<circle cx="1597.5" cy="487.6" r="6.95"/>
<circle cx="1601.9" cy="487.6" r="6.95"/>
<circle cx="1582.1" cy="496.5" r="6.95"/>
<circle cx="1615.3" cy="568.2" r="6.95"/>
<circle cx="1612.0" cy="715.9" r="6.95"/>
<circle cx="1722.9" cy="230.8" r="6.95"/>
<circle cx="1718.1" cy="239.7" r="6.95"/>
<circle cx="1693.8" cy="247.7" r="6.95"/>
<circle cx="1711.0" cy="264.9" r="6.95"/>
<circle cx="1724.4" cy="269.3" r="6.95"/>
<circle cx="1715.2" cy="286.2" r="6.95"/>
<circle cx="1732.4" cy="286.2" r="6.95"/>
<circle cx="1720.5" cy="294.5" r="6.95"/>
<circle cx="1734.7" cy="297.5" r="6.95"/>
<circle cx="1695.3" cy="300.4" r="6.95"/>
<circle cx="1692.9" cy="304.3" r="6.95"/>
<circle cx="1729.4" cy="304.9" r="6.95"/>
<circle cx="1726.4" cy="309.3" r="6.95"/>
<circle cx="1707.2" cy="314.7" r="6.95"/>
<circle cx="1724.9" cy="315.2" r="6.95"/>
<circle cx="1704.2" cy="322.7" r="6.95"/>
<circle cx="1723.5" cy="327.1" r="6.95"/>
<circle cx="1695.9" cy="332.4" r="6.95"/>
<circle cx="1728.8" cy="331.6" r="6.95"/>
<circle cx="1693.8" cy="341.3" r="6.95"/>
<circle cx="1717.5" cy="344.3" r="6.95"/>
<circle cx="1731.8" cy="339.9" r="6.95"/>
<circle cx="1726.4" cy="347.9" r="6.95"/>
<circle cx="1696.8" cy="351.4" r="6.95"/>
<circle cx="1707.2" cy="351.4" r="6.95"/>
<circle cx="1722.0" cy="352.3" r="6.95"/>
<circle cx="1701.2" cy="359.7" r="6.95"/>
<circle cx="1704.2" cy="362.1" r="6.95"/>
<circle cx="1695.9" cy="365.6" r="6.95"/>
<circle cx="1702.1" cy="373.9" r="6.95"/>
<circle cx="1713.1" cy="386.4" r="6.95"/>
<circle cx="1724.4" cy="384.0" r="6.95"/>
<circle cx="1722.0" cy="389.4" r="6.95"/>
<circle cx="1700.6" cy="392.3" r="6.95"/>
<circle cx="1693.8" cy="398.2" r="6.95"/>
<circle cx="1710.1" cy="397.7" r="6.95"/>
<circle cx="1727.3" cy="399.7" r="6.95"/>
<circle cx="1696.2" cy="405.7" r="6.95"/>
<circle cx="1703.3" cy="411.6" r="6.95"/>
<circle cx="1702.7" cy="361.2" r="6.95"/>
<circle cx="1724.9" cy="349.3" r="6.95"/>
<circle cx="1722.0" cy="387.9" r="6.95"/>
<circle cx="1695.3" cy="398.8" r="6.95"/>
<circle cx="1691.4" cy="441.6" r="6.95"/>
<circle cx="1710.1" cy="441.6" r="6.95"/>
<circle cx="1719.9" cy="441.6" r="6.95"/>
<circle cx="1704.2" cy="449.6" r="6.95"/>
<circle cx="1716.1" cy="455.0" r="6.95"/>
<circle cx="1702.7" cy="457.9" r="6.95"/>
<circle cx="1710.1" cy="458.5" r="6.95"/>
<circle cx="1735.3" cy="457.6" r="6.95"/>
<circle cx="1716.1" cy="462.1" r="6.95"/>
<circle cx="1726.4" cy="464.5" r="6.95"/>
<circle cx="1700.6" cy="474.8" r="6.95"/>
<circle cx="1729.4" cy="485.8" r="6.95"/>
<circle cx="1727.9" cy="543.6" r="6.95"/>
<circle cx="1729.4" cy="556.9" r="6.95"/>
<circle cx="1697.7" cy="594.9" r="6.95"/>
<circle cx="1728.8" cy="608.8" r="6.95"/>
<circle cx="1699.7" cy="634.9" r="6.95"/>
<circle cx="1713.1" cy="654.2" r="6.95"/>
<circle cx="1822.7" cy="162.2" r="6.95"/>
<circle cx="1845.6" cy="258.3" r="6.95"/>
<circle cx="1803.1" cy="277.3" r="6.95"/>
<circle cx="1807.0" cy="286.1" r="6.95"/>
<circle cx="1818.5" cy="288.8" r="6.95"/>
<circle cx="1845.3" cy="288.8" r="6.95"/>
<circle cx="1807.7" cy="297.6" r="6.95"/>
<circle cx="1845.3" cy="297.6" r="6.95"/>
<circle cx="1813.6" cy="307.4" r="6.95"/>
<circle cx="1805.4" cy="314.9" r="6.95"/>
<circle cx="1803.8" cy="319.2" r="6.95"/>
<circle cx="1818.5" cy="323.1" r="6.95"/>
<circle cx="1829.9" cy="326.3" r="6.95"/>
<circle cx="1821.7" cy="329.6" r="6.95"/>
<circle cx="1841.3" cy="334.5" r="6.95"/>
<circle cx="1803.8" cy="337.8" r="6.95"/>
<circle cx="1813.6" cy="336.2" r="6.95"/>
<circle cx="1831.5" cy="339.4" r="6.95"/>
<circle cx="1843.0" cy="339.4" r="6.95"/>
<circle cx="1818.5" cy="347.6" r="6.95"/>
<circle cx="1828.3" cy="347.6" r="6.95"/>
<circle cx="1838.1" cy="349.2" r="6.95"/>
<circle cx="1846.3" cy="352.5" r="6.95"/>
<circle cx="1816.8" cy="355.8" r="6.95"/>
<circle cx="1826.6" cy="357.4" r="6.95"/>
<circle cx="1836.4" cy="358.4" r="6.95"/>
<circle cx="1810.3" cy="363.9" r="6.95"/>
<circle cx="1820.1" cy="365.6" r="6.95"/>
<circle cx="1834.8" cy="365.6" r="6.95"/>
<circle cx="1844.0" cy="367.2" r="6.95"/>
<circle cx="1821.7" cy="373.8" r="6.95"/>
<circle cx="1839.7" cy="375.4" r="6.95"/>
<circle cx="1807.0" cy="381.9" r="6.95"/>
<circle cx="1821.7" cy="381.9" r="6.95"/>
<circle cx="1838.1" cy="385.2" r="6.95"/>
<circle cx="1807.0" cy="393.4" r="6.95"/>
<circle cx="1821.7" cy="395.0" r="6.95"/>
<circle cx="1836.4" cy="390.1" r="6.95"/>
<circle cx="1816.8" cy="411.3" r="6.95"/>
<circle cx="1823.4" cy="413.0" r="6.95"/>
<circle cx="1839.7" cy="409.7" r="6.95"/>
<circle cx="1821.7" cy="422.8" r="6.95"/>
<circle cx="1841.3" cy="427.7" r="6.95"/>
<circle cx="1844.6" cy="431.0" r="6.95"/>
<circle cx="1804.7" cy="316.5" r="6.95"/>
<circle cx="1808.0" cy="287.1" r="6.95"/>
<circle cx="1813.3" cy="307.6" r="6.95"/>
<circle cx="1816.8" cy="325.2" r="6.95"/>
<circle cx="1829.1" cy="325.2" r="6.95"/>
<circle cx="1818.6" cy="332.2" r="6.95"/>
<circle cx="1830.9" cy="330.5" r="6.95"/>
<circle cx="1841.4" cy="334.0" r="6.95"/>
<circle cx="1827.4" cy="341.0" r="6.95"/>
<circle cx="1839.7" cy="341.0" r="6.95"/>
<circle cx="1815.1" cy="348.0" r="6.95"/>
<circle cx="1827.4" cy="348.0" r="6.95"/>
<circle cx="1839.7" cy="348.0" r="6.95"/>
<circle cx="1811.5" cy="355.1" r="6.95"/>
<circle cx="1823.9" cy="356.8" r="6.95"/>
<circle cx="1834.4" cy="358.6" r="6.95"/>
<circle cx="1806.3" cy="362.1" r="6.95"/>
<circle cx="1818.6" cy="363.9" r="6.95"/>
<circle cx="1829.1" cy="363.9" r="6.95"/>
<circle cx="1843.2" cy="362.1" r="6.95"/>
<circle cx="1813.3" cy="369.2" r="6.95"/>
<circle cx="1823.9" cy="370.9" r="6.95"/>
<circle cx="1806.3" cy="395.5" r="6.95"/>
<circle cx="1836.2" cy="393.8" r="6.95"/>
<circle cx="1821.7" cy="423.3" r="6.95"/>
<circle cx="1841.3" cy="427.2" r="6.95"/>
<circle cx="1844.6" cy="430.5" r="6.95"/>
<circle cx="1812.6" cy="441.3" r="6.95"/>
<circle cx="1826.6" cy="441.3" r="6.95"/>
<circle cx="1836.4" cy="441.3" r="6.95"/>
<circle cx="1845.3" cy="441.3" r="6.95"/>
<circle cx="1818.5" cy="453.3" r="6.95"/>
<circle cx="1832.2" cy="449.4" r="6.95"/>
<circle cx="1845.3" cy="452.0" r="6.95"/>
<circle cx="1808.7" cy="456.6" r="6.95"/>
<circle cx="1815.2" cy="464.1" r="6.95"/>
<circle cx="1826.6" cy="462.5" r="6.95"/>
<circle cx="1836.4" cy="465.1" r="6.95"/>
<circle cx="1826.6" cy="488.0" r="6.95"/>
<circle cx="1833.8" cy="489.6" r="6.95"/>
<circle cx="1810.9" cy="502.4" r="6.95"/>
<circle cx="1825.0" cy="514.2" r="6.95"/>
<circle cx="1817.5" cy="517.1" r="6.95"/>
<circle cx="1831.5" cy="525.6" r="6.95"/>
<circle cx="1802.8" cy="531.8" r="6.95"/>
<circle cx="1810.9" cy="531.8" r="6.95"/>
<circle cx="1817.5" cy="542.6" r="6.95"/>
<circle cx="1835.5" cy="549.8" r="6.95"/>
<circle cx="1818.5" cy="567.8" r="6.95"/>
<circle cx="1811.9" cy="569.4" r="6.95"/>
<circle cx="1837.8" cy="594.6" r="6.95"/>
<circle cx="1815.2" cy="615.5" r="6.95"/>
<circle cx="1829.3" cy="619.1" r="6.95"/>
<circle cx="1807.0" cy="653.8" r="6.95"/>
<circle cx="1811.3" cy="653.4" r="6.95"/>
<circle cx="1802.8" cy="671.4" r="6.95"/>
<circle cx="1829.9" cy="442.2" r="6.95"/>
<circle cx="1828.3" cy="464.1" r="6.95"/>
<circle cx="1820.0" cy="803.0" r="6.95"/>
</g>
<line x1="1092.1" x2="1891.5" y1="414.5" y2="414.5" stroke="#000" stroke-width="3.3" stroke-dasharray="12.65 12.65"/>
<line x1="1269.7" x2="1269.7" y1="124.8" y2="150.7" stroke="#D0AE33" stroke-width="4"/>
<line x1="1380.8" x2="1380.8" y1="124.8" y2="150.7" stroke="#75C333" stroke-width="4"/>
<line x1="1491.8" x2="1491.8" y1="124.8" y2="150.7" stroke="#33CDA9" stroke-width="4"/>
<line x1="1602.8" x2="1602.8" y1="124.8" y2="150.7" stroke="#33C5EF" stroke-width="4"/>
<line x1="1713.9" x2="1713.9" y1="124.8" y2="150.7" stroke="#B7A1FF" stroke-width="4"/>
<line x1="1824.9" x2="1824.9" y1="124.8" y2="150.7" stroke="#FC81DF" stroke-width="4"/>
<path d="M1158.7 150.7V124.8H1826.3" stroke="#1a1a1a" stroke-width="4" fill="none"/>
<text x="1269.1" y="116.1" class="ns">ns</text>
<text x="1380.2" y="116.1" class="ns">ns</text>
<text x="1491.2" y="116.1" class="ns">ns</text>
<text x="1602.2" y="116.1" class="ns">ns</text>
<text x="1713.3" y="116.1" class="ns">ns</text>
<text x="1824.3" y="116.1" class="ns">ns</text>
<text x="1161.7" y="857.3" class="nl"><tspan font-style="italic">n</tspan>=23</text>
<text x="1272.7" y="857.3" class="nl"><tspan font-style="italic">n</tspan>=23</text>
<text x="1383.8" y="857.3" class="nl"><tspan font-style="italic">n</tspan>=33</text>
<text x="1494.8" y="857.3" class="nl"><tspan font-style="italic">n</tspan>=44</text>
<text x="1605.8" y="857.3" class="nl"><tspan font-style="italic">n</tspan>=58</text>
<text x="1716.9" y="857.3" class="nl"><tspan font-style="italic">n</tspan>=65</text>
<text x="1830.8" y="857.3" class="nl"><tspan font-style="italic">n</tspan>=110</text>
<rect x="1092.1" y="89.0" width="799.4" height="776.6" fill="none" stroke="#333" stroke-width="3.4"/>
<line x1="1083.3" x2="1090.5" y1="830.5" y2="830.5" stroke="#333" stroke-width="3.2"/>
<text transform="translate(1075.4,844.9) scale(1,1.045)" class="yt">90</text>
<line x1="1083.3" x2="1090.5" y1="653.9" y2="653.9" stroke="#333" stroke-width="3.2"/>
<text transform="translate(1079.1,668.3) scale(1,1.045)" class="yt">120</text>
<line x1="1083.3" x2="1090.5" y1="477.3" y2="477.3" stroke="#333" stroke-width="3.2"/>
<text transform="translate(1079.1,491.7) scale(1,1.045)" class="yt">150</text>
<line x1="1083.3" x2="1090.5" y1="300.8" y2="300.8" stroke="#333" stroke-width="3.2"/>
<text transform="translate(1079.1,315.2) scale(1,1.045)" class="yt">180</text>
<line x1="1083.3" x2="1090.5" y1="124.2" y2="124.2" stroke="#333" stroke-width="3.2"/>
<text transform="translate(1079.1,138.6) scale(1,1.045)" class="yt">210</text>
<line x1="1158.7" x2="1158.7" y1="867.2" y2="874.0" stroke="#333" stroke-width="3.2"/>
<text transform="translate(1158.7,911) scale(1,1.03)" class="xt">1</text>
<line x1="1269.7" x2="1269.7" y1="867.2" y2="874.0" stroke="#333" stroke-width="3.2"/>
<text transform="translate(1269.7,911) scale(1,1.03)" class="xt">2</text>
<line x1="1380.8" x2="1380.8" y1="867.2" y2="874.0" stroke="#333" stroke-width="3.2"/>
<text transform="translate(1380.8,911) scale(1,1.03)" class="xt">3</text>
<line x1="1491.8" x2="1491.8" y1="867.2" y2="874.0" stroke="#333" stroke-width="3.2"/>
<text transform="translate(1491.8,911) scale(1,1.03)" class="xt">4</text>
<line x1="1602.8" x2="1602.8" y1="867.2" y2="874.0" stroke="#333" stroke-width="3.2"/>
<text transform="translate(1602.8,911) scale(1,1.03)" class="xt">5</text>
<line x1="1713.9" x2="1713.9" y1="867.2" y2="874.0" stroke="#333" stroke-width="3.2"/>
<text transform="translate(1713.9,911) scale(1,1.03)" class="xt">6</text>
<line x1="1824.9" x2="1824.9" y1="867.2" y2="874.0" stroke="#333" stroke-width="3.2"/>
<text transform="translate(1826.5,911) scale(1,1.03)" class="xt">10</text>
<text x="1493.3" y="966.4" class="ttl" text-anchor="middle">Embryos per well</text>
<text x="-1.2" y="38.6" class="pl">a</text>
<text x="971.8" y="38.6" class="pl">b</text>
<text transform="translate(38.0,644) rotate(-90)" class="ttl" id="yla">Heart rate (bpm)</text>
<text transform="translate(994.2,644) rotate(-90)" class="ttl" id="ylb">Heart rate (bpm)</text>
<g id="medaka" transform="translate(430,0) scale(0.11622)" stroke="#222" stroke-width="8" stroke-linejoin="round" stroke-linecap="round">
<path d="M1270 105L1500 55Q1525 52 1527 75L1525 140Q1520 152 1500 152L1380 150Q1300 140 1280 118Z" fill="#a9a9a9"/>
<path d="M1585 178L1765 97Q1775 97 1770 115Q1740 270 1742 445Q1735 458 1722 450L1560 335Z" fill="#9c9c9c"/>
<path d="M1590 265L1768 105Q1775 97 1765 97L1585 178Z" fill="#b0b0b0" stroke="none"/>
<path d="M840 425Q880 465 940 476Q985 478 995 458Q990 440 960 438Q900 430 870 410Z" fill="#a6a6a6"/>
<path d="M160 215Q148 195 175 186Q430 130 700 102Q1000 88 1270 105Q1330 150 1440 170L1585 178Q1598 260 1560 335Q1480 315 1370 305Q1150 340 1000 380Q900 425 830 437Q700 465 600 458Q500 430 420 375Q270 340 160 215Z" fill="#dcdcdc"/>
<path d="M990 388Q1150 340 1370 305L1515 368Q1525 378 1510 388L1350 450Q1290 480 1240 518Q1225 525 1210 516Z" fill="#a3a3a3"/>
<path d="M570 225Q700 208 770 215Q805 225 800 255Q790 310 740 340Q680 358 610 335L560 315Z" fill="#989898"/>
<circle cx="300" cy="232" r="63" fill="#fff"/>
<circle cx="300" cy="232" r="41" fill="#1c1c1c" stroke="none"/>
<path d="M497 283Q480 340 430 380M165 208Q172 228 195 238" fill="none"/>
</g>
<defs><linearGradient id="tg" x1="0" y1="0" x2="0" y2="1"><stop offset="0" stop-color="#b2b2b2"/><stop offset="0.45" stop-color="#a0a0a0"/><stop offset="1" stop-color="#858585"/></linearGradient></defs>
<g id="zebra" transform="translate(1385,0) scale(0.11622)" stroke="#222" stroke-width="8" stroke-linejoin="round" stroke-linecap="round">
<path d="M1045 158L1180 75Q1240 55 1250 80Q1262 130 1250 188L1150 182Z" fill="#a6a6a6"/>
<path d="M1513 182L1728 14Q1770 -8 1790 20Q1802 45 1790 110Q1775 190 1757 259Q1790 350 1812 440Q1822 500 1790 512Q1770 515 1745 498L1513 357Z" fill="url(#tg)"/>
<path d="M1525 218Q1680 200 1775 158M1525 282Q1650 280 1752 262M1525 342Q1680 345 1785 380" fill="none" stroke="#4e4e4e" stroke-width="13"/>
<path d="M765 468Q800 490 830 500Q860 505 880 498Q915 465 930 438L900 440Z" fill="#a6a6a6"/>
<path d="M150 268Q170 220 260 190Q400 145 550 135Q750 122 900 132Q1000 145 1100 175Q1200 200 1300 198Q1420 195 1515 182Q1530 270 1515 352Q1400 352 1280 350Q1150 362 1000 410Q900 445 760 465Q600 455 450 420L300 385Q180 340 150 268Z" fill="#dcdcdc"/>
<path d="M430 230Q900 240 1200 248Q1400 245 1515 226M465 283Q900 300 1200 293Q1400 290 1515 285M715 350Q1000 328 1300 325L1515 337" fill="none" stroke="#565656" stroke-width="12"/>
<path d="M975 420L1150 365L1280 352L1355 400Q1310 465 1260 500Q1200 545 1140 572Q1120 580 1105 565Z" fill="#a3a3a3"/>
<path d="M1015 428Q1180 400 1335 418M1055 472Q1180 460 1285 478M1090 537Q1150 530 1210 537" fill="none" stroke="#4e4e4e" stroke-width="13"/>
<path d="M975 420L1150 365L1280 352L1355 400Q1310 465 1260 500Q1200 545 1140 572Q1120 580 1105 565Z" fill="none"/>
<path d="M480 345Q600 322 670 338Q705 360 698 385Q680 412 620 415Q540 405 475 380Z" fill="#989898"/>
<circle cx="243" cy="270" r="46" fill="#fff"/>
<circle cx="243" cy="270" r="30" fill="#1c1c1c" stroke="none"/>
<path d="M335 310Q330 350 305 385" fill="none"/>
</g>
</svg>
</body></html>
